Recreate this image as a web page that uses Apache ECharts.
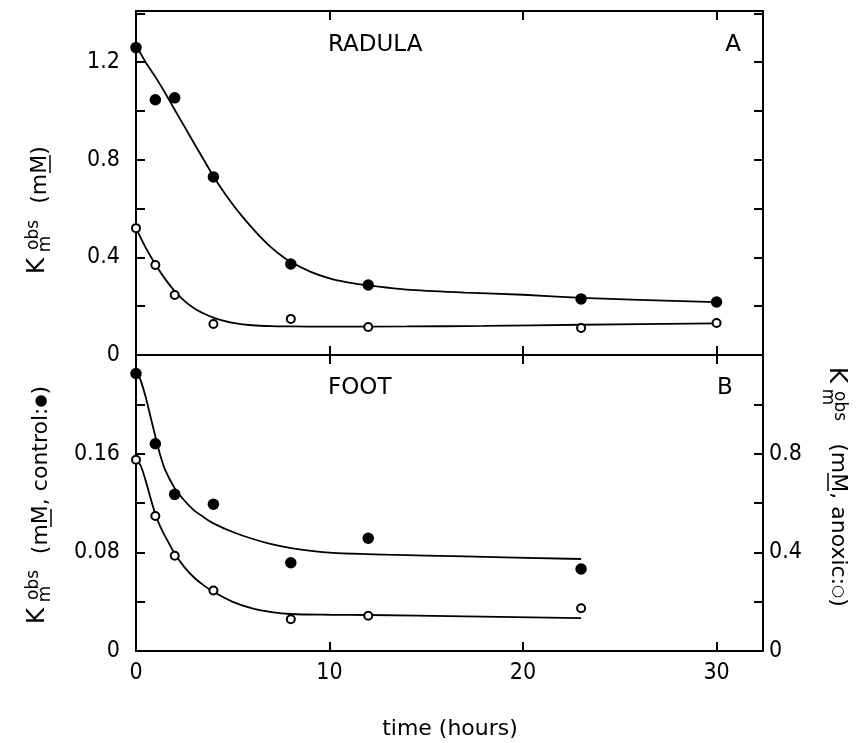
<!DOCTYPE html>
<html><head><meta charset="utf-8">
<script src="https://cdn.jsdelivr.net/npm/echarts@6/dist/echarts.min.js"></script>
<style>html,body{margin:0;padding:0;background:#fff}#c{width:860px;height:743px}</style>
</head><body><div id="c"></div>
<script>
// ---- data ----
const xTickLabels = [0, 10, 20, 30];
const radulaTickLabels = [0, 0.4, 0.8, 1.2];
const footLeftTickLabels = [0, 0.08, 0.16];
const footRightTickLabels = [0, 0.4, 0.8];

const timeRadula = [0, 1, 2, 4, 8, 12, 23, 30];
const radulaControl = [1.26, 1.046, 1.054, 0.73, 0.373, 0.287, 0.23, 0.217];
const radulaAnoxic = [0.52, 0.369, 0.246, 0.127, 0.148, 0.115, 0.111, 0.131];

// fitted curves
const radulaControlFitT = [0, 0.5, 1, 1.5, 2, 2.5, 3, 3.5, 4, 4.5, 5, 5.5, 6, 6.5, 7, 7.5, 8, 9, 10, 11, 12, 14, 17, 20, 23, 26, 30];
const radulaControlFitV = [1.27, 1.2, 1.14, 1.075, 1.005, 0.937, 0.868, 0.8, 0.733, 0.672, 0.617, 0.567, 0.521, 0.478, 0.44, 0.408, 0.381, 0.342, 0.314, 0.297, 0.285, 0.268, 0.256, 0.247, 0.234, 0.226, 0.217];
const radulaAnoxicFitT = [0, 0.5, 1, 1.5, 2, 2.5, 3, 3.5, 4, 4.5, 5, 6, 7, 8, 10, 14, 18, 23, 30];
const radulaAnoxicFitV = [0.52, 0.44, 0.372, 0.312, 0.262, 0.222, 0.192, 0.17, 0.153, 0.141, 0.132, 0.122, 0.118, 0.117, 0.116, 0.117, 0.119, 0.124, 0.13];

const timeFoot = [0, 1, 2, 4, 8, 12, 23];
const footControl = [0.225, 0.168, 0.127, 0.119, 0.0716, 0.0914, 0.0665];   // left axis
const footAnoxic = [0.775, 0.547, 0.386, 0.245, 0.129, 0.143, 0.173];       // right axis

const footControlFitT = [0, 0.25, 0.5, 0.75, 1, 1.25, 1.5, 2, 2.5, 3, 3.5, 4, 5, 6, 7, 8, 10, 13, 17, 23];
const footControlFitV = [0.229, 0.219, 0.206, 0.19, 0.174, 0.159, 0.147, 0.132, 0.122, 0.114, 0.1085, 0.1035, 0.0965, 0.091, 0.0866, 0.0835, 0.0797, 0.0781, 0.0767, 0.0746];
const footAnoxicFitT = [0, 0.25, 0.5, 0.75, 1, 1.25, 1.5, 2, 2.5, 3, 3.5, 4, 5, 6, 7, 8, 10, 12, 17, 23];
const footAnoxicFitV = [0.78, 0.75, 0.69, 0.62, 0.555, 0.505, 0.466, 0.395, 0.34, 0.298, 0.266, 0.24, 0.199, 0.173, 0.158, 0.15, 0.147, 0.146, 0.14, 0.133];

// ---- helpers ----
const pairs = (xs, ys) => xs.map((x, i) => [x, ys[i]]);
const labelFrom = arr => v => { const m = arr.find(t => Math.abs(t - v) < 1e-9); return m === undefined ? '' : String(m); };
const TICKFONT = '"Liberation Sans Narrow", "DejaVu Sans Condensed", "Liberation Sans", sans-serif';
const TEXTFONT = '"DejaVu Sans", sans-serif';
const lineSt = { color: '#000', width: 2 };

function xAx(grid, pos, showLabels) {
  return {
    type: 'value', gridIndex: grid, position: pos, min: 0, max: 32.4, interval: 10,
    axisLine: { show: true, onZero: false, lineStyle: lineSt },
    axisTick: { show: true, inside: true, length: 9, lineStyle: lineSt },
    axisLabel: { show: showLabels, margin: 11, color: '#000', fontSize: 23, fontFamily: TICKFONT, formatter: labelFrom(xTickLabels) },
    splitLine: { show: false }
  };
}
function yAx(grid, pos, max, interval, labels, margin) {
  return {
    type: 'value', gridIndex: grid, position: pos, min: 0, max: max, interval: interval,
    axisLine: { show: true, onZero: false, lineStyle: lineSt },
    axisTick: { show: true, inside: true, length: 9, lineStyle: lineSt },
    axisLabel: { show: !!labels, margin: margin, color: '#000', fontSize: 23, fontFamily: TICKFONT, formatter: labels ? labelFrom(labels) : '' },
    splitLine: { show: false }
  };
}
function fit(xi, yi, t, v) {
  return { type: 'line', xAxisIndex: xi, yAxisIndex: yi, data: pairs(t, v), smooth: 0.3,
    showSymbol: false, symbol: 'none', lineStyle: { color: '#000', width: 1.8 }, z: 2, silent: true };
}
function dots(xi, yi, t, v, filled) {
  return { type: 'scatter', xAxisIndex: xi, yAxisIndex: yi, data: pairs(t, v), symbol: 'circle',
    symbolSize: filled ? 11.5 : 8,
    itemStyle: filled ? { color: '#000', opacity: 1 } : { color: '#fff', borderColor: '#000', borderWidth: 2, opacity: 1 }, z: 4 };
}
function txt(x, y, text, size, rot, rich) {
  const st = { text: text, fontSize: size, fontFamily: TEXTFONT, fill: '#000', align: 'center', verticalAlign: 'middle' };
  if (rich) st.rich = rich;
  return { type: 'text', x: x, y: y, rotation: rot || 0, silent: true, style: st };
}
function uline(x1, y1, x2, y2) {
  return { type: 'line', silent: true, shape: { x1: x1, y1: y1, x2: x2, y2: y2 }, style: { stroke: '#000', lineWidth: 1.5 } };
}
const R = Math.PI / 2;
const symRich = { t: { fontSize: 22, fontFamily: TEXTFONT, fill: '#000' }, d: { fontSize: 15, fontFamily: TEXTFONT, fill: '#000' } };

const chart = echarts.init(document.getElementById('c'));
chart.setOption({
  animation: false,
  backgroundColor: '#fff',
  grid: [
    { left: 136, top: 11, width: 627, height: 344 },
    { left: 136, top: 355, width: 627, height: 296 }
  ],
  xAxis: [xAx(0, 'bottom', false), xAx(0, 'top', false), xAx(1, 'top', false), xAx(1, 'bottom', true)],
  yAxis: [
    yAx(0, 'left', 1.41, 0.2, radulaTickLabels, 16),
    yAx(0, 'right', 1.41, 0.2, null, 6),
    yAx(1, 'left', 0.24, 0.04, footLeftTickLabels, 16),
    yAx(1, 'right', 1.2, 0.2, footRightTickLabels, 6)
  ],
  series: [
    fit(0, 0, radulaControlFitT, radulaControlFitV),
    fit(0, 0, radulaAnoxicFitT, radulaAnoxicFitV),
    dots(0, 0, timeRadula, radulaControl, true),
    dots(0, 0, timeRadula, radulaAnoxic, false),
    fit(3, 2, footControlFitT, footControlFitV),
    fit(3, 3, footAnoxicFitT, footAnoxicFitV),
    dots(3, 2, timeFoot, footControl, true),
    dots(3, 3, timeFoot, footAnoxic, false)
  ],
  graphic: [
    { type: 'text', x: 328, y: 45, silent: true, style: { text: 'RADULA', fontSize: 23, fontFamily: TEXTFONT, fill: '#000', align: 'left', verticalAlign: 'middle' } },
    txt(733, 45, 'A', 23),
    { type: 'text', x: 328, y: 388, silent: true, style: { text: 'FOOT', fontSize: 23, fontFamily: TEXTFONT, fill: '#000', align: 'left', verticalAlign: 'middle' } },
    txt(725, 388, 'B', 23),
    txt(450, 729, 'time (hours)', 22),
    // top-left y title
    txt(37, 266, 'K', 25, R),
    txt(34, 235, 'obs', 17, R),
    txt(46, 244, 'm', 17, R),
    txt(40, 175, '(mM)', 22, R),
    uline(50, 155, 50, 173),
    // bottom-left y title
    txt(37, 616, 'K', 25, R),
    txt(34, 585, 'obs', 17, R),
    txt(46, 594, 'm', 17, R),
    txt(41, 470, '{t|(mM, control:}{d|●}{t|)}', 22, R, symRich),
    uline(51, 509, 51, 527),
    // right y title
    txt(836, 375, 'K', 25, -R),
    txt(839, 406, 'obs', 17, -R),
    txt(827, 397, 'm', 17, -R),
    txt(838, 525, '{t|(mM, anoxic:}{d|○}{t|)}', 22, -R, symRich),
    uline(828, 473, 828, 491)
  ]
});
</script></body></html>
